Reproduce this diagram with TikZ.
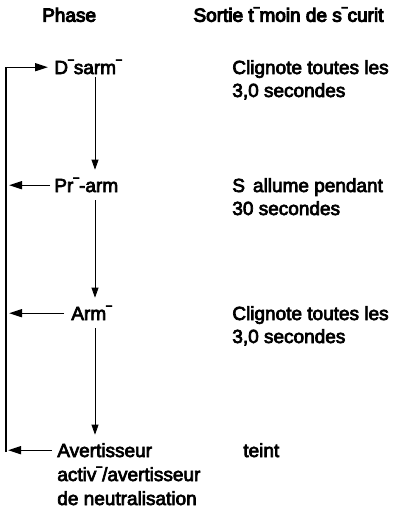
\documentclass[tikz,border=0pt]{standalone}
\usepackage{fontspec}
\setmainfont{Liberation Sans}
\newcommand\mcr{\scalebox{0.55}[1]{¯}}
\usetikzlibrary{arrows.meta,calc}
\tikzset{
  lbl/.style={inner sep=0pt, anchor=base west, line width=0.7pt, font=\fontsize{19}{23}\selectfont},
  headlbl/.style={lbl, line width=1.0pt},
  phaselbl/.style={lbl, text height=13.6pt, text depth=0pt},
  harrow/.style={line width=1.4pt, -{Triangle[length=13pt,width=8pt]}},
  varrow/.style={line width=0.7pt, -{Triangle[length=10pt,width=7pt]}}
}
\begin{document}
\begin{tikzpicture}[x=1pt,y=-1pt]
\useasboundingbox[fill=white] (0,0) rectangle (410,509);
\special{pdf:literal direct 2 Tr}
% phases
\node[phaselbl] (desarme) at (54,74) {D\mcr sarm\mcr};
\node[phaselbl] (prearm) at (54,192) {Pr\mcr-arm};
\node[phaselbl] (arme) at (71,320) {Arm\mcr};
\node[phaselbl] (avert) at (57,457) {Avertisseur};
\node[lbl] (avert2) at (57,481) {activ\mcr/avertisseur};
\node[lbl] (avert3) at (57,505) {de neutralisation};
% outputs
\node[lbl] (out1a) at (232,74) {Clignote toutes les};
\node[lbl] (out1b) at (232,97) {3,0 secondes};
\node[lbl] (out2a) at (232,192) {S\kern8pt allume pendant};
\node[lbl] (out2b) at (232,215) {30 secondes};
\node[lbl] (out3a) at (232,320) {Clignote toutes les};
\node[lbl] (out3b) at (232,343) {3,0 secondes};
\node[lbl] (out4) at (243,457) {teint};
% headers
\node[headlbl] (phase) at (41.7,21.7) {Phase};
\node[headlbl] (sortie) at (193,21.7) {Sortie t\mcr moin de s\mcr curit};
% helper coordinates
\coordinate (spine) at (95,0);
\coordinate (loopb) at (6,452);
% vertical flow arrows
\draw[varrow, shorten <=3pt, shorten >=8.4pt] (desarme.south -| spine) -- (prearm.north -| spine);
\draw[varrow, shorten <=8pt, shorten >=8.4pt] (prearm.south -| spine) -- (arme.north -| spine);
\draw[varrow, shorten <=8pt, shorten >=8.4pt] (arme.south -| spine) -- (avert.north -| spine);
% return loop
\draw[harrow, shorten >=6pt] (loopb) |- (desarme.west);
% arrows to the left
\draw[harrow, shorten >=3pt] ($(prearm.west)+(-4,0)$) -- (prearm.west -| loopb);
\draw[harrow, shorten >=3pt] ($(arme.west)+(-7,0)$) -- (arme.west -| loopb);
\draw[harrow, shorten >=2pt] ($(avert.west)+(-5,0)$) -- (avert.west -| loopb);
\end{tikzpicture}
\end{document}
